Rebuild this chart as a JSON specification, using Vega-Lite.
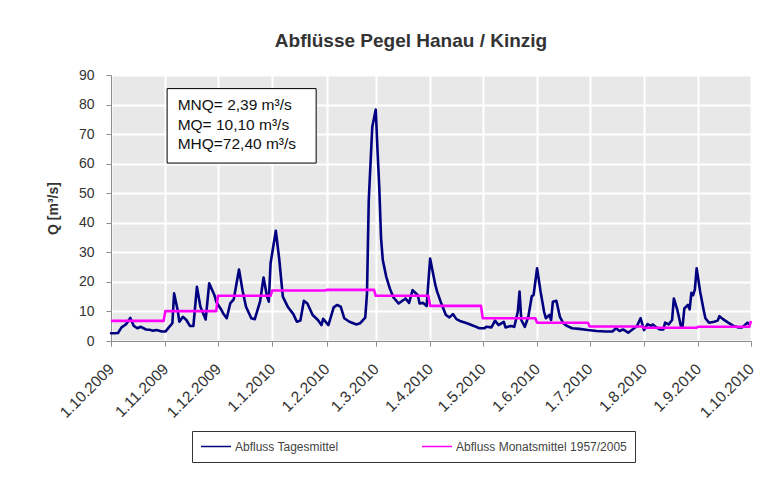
{
  "$schema": "https://vega.github.io/schema/vega-lite/v6.json",
  "width": 640,
  "height": 266,
  "autosize": {"type": "none"},
  "padding": {"left": 111, "top": 75, "right": 28, "bottom": 139},
  "background": "white",
  "title": {
    "text": "Abflüsse Pegel Hanau / Kinzig",
    "font": "Liberation Sans",
    "fontSize": 19,
    "fontWeight": "bold",
    "color": "#333333",
    "anchor": "middle",
    "dx": -20,
    "offset": 17
  },
  "config": {
    "view": {"fill": "#E8E8E8", "stroke": null},
    "axis": {
      "labelFont": "Liberation Sans",
      "titleFont": "Liberation Sans",
      "labelColor": "#333333",
      "titleColor": "#333333",
      "domainColor": "#8C8C8C",
      "tickColor": "#8C8C8C",
      "gridColor": "#FFFFFF",
      "gridWidth": 2,
      "gridOpacity": 1
    },
    "legend": {"labelFont": "Liberation Sans"}
  },
  "datasets": {
    "daily": [
      {"d": "2009-10-01", "q": 2.6}, {"d": "2009-10-03", "q": 2.6}, {"d": "2009-10-05", "q": 2.7},
      {"d": "2009-10-07", "q": 4.6}, {"d": "2009-10-09", "q": 5.4}, {"d": "2009-10-10", "q": 6.0},
      {"d": "2009-10-12", "q": 7.8}, {"d": "2009-10-14", "q": 5.1}, {"d": "2009-10-16", "q": 4.3},
      {"d": "2009-10-18", "q": 4.8}, {"d": "2009-10-21", "q": 3.9}, {"d": "2009-10-23", "q": 3.8},
      {"d": "2009-10-25", "q": 3.5}, {"d": "2009-10-27", "q": 3.7}, {"d": "2009-10-30", "q": 3.2},
      {"d": "2009-11-01", "q": 3.2}, {"d": "2009-11-03", "q": 4.6}, {"d": "2009-11-05", "q": 6.0},
      {"d": "2009-11-06", "q": 16.1}, {"d": "2009-11-08", "q": 10.5}, {"d": "2009-11-09", "q": 6.5},
      {"d": "2009-11-11", "q": 8.2}, {"d": "2009-11-13", "q": 7.1}, {"d": "2009-11-15", "q": 5.1},
      {"d": "2009-11-17", "q": 5.1}, {"d": "2009-11-19", "q": 18.3}, {"d": "2009-11-21", "q": 11.6},
      {"d": "2009-11-24", "q": 7.3}, {"d": "2009-11-26", "q": 19.5}, {"d": "2009-11-29", "q": 15.5},
      {"d": "2009-11-30", "q": 13.3}, {"d": "2009-12-03", "q": 10.5}, {"d": "2009-12-04", "q": 9.3},
      {"d": "2009-12-06", "q": 7.7}, {"d": "2009-12-08", "q": 12.7}, {"d": "2009-12-10", "q": 14.1},
      {"d": "2009-12-13", "q": 24.2}, {"d": "2009-12-15", "q": 17.2}, {"d": "2009-12-17", "q": 11.6},
      {"d": "2009-12-20", "q": 7.7}, {"d": "2009-12-22", "q": 7.4}, {"d": "2009-12-25", "q": 13.3},
      {"d": "2009-12-27", "q": 21.5}, {"d": "2009-12-29", "q": 15.0}, {"d": "2009-12-30", "q": 13.3},
      {"d": "2009-12-31", "q": 26.3}, {"d": "2010-01-03", "q": 37.3}, {"d": "2010-01-05", "q": 27.4},
      {"d": "2010-01-07", "q": 15.0}, {"d": "2010-01-10", "q": 11.4}, {"d": "2010-01-13", "q": 9.1},
      {"d": "2010-01-15", "q": 6.5}, {"d": "2010-01-17", "q": 6.9}, {"d": "2010-01-19", "q": 13.6},
      {"d": "2010-01-21", "q": 12.7}, {"d": "2010-01-24", "q": 8.8}, {"d": "2010-01-27", "q": 7.1},
      {"d": "2010-01-29", "q": 5.4}, {"d": "2010-01-30", "q": 7.5}, {"d": "2010-02-02", "q": 5.4},
      {"d": "2010-02-05", "q": 11.4}, {"d": "2010-02-07", "q": 12.2}, {"d": "2010-02-09", "q": 11.6},
      {"d": "2010-02-11", "q": 7.7}, {"d": "2010-02-14", "q": 6.5}, {"d": "2010-02-18", "q": 5.6},
      {"d": "2010-02-20", "q": 6.0}, {"d": "2010-02-23", "q": 7.9}, {"d": "2010-02-24", "q": 16.1},
      {"d": "2010-02-25", "q": 47.6}, {"d": "2010-02-27", "q": 72.4}, {"d": "2010-03-01", "q": 78.3},
      {"d": "2010-03-02", "q": 64.5}, {"d": "2010-03-03", "q": 52.0}, {"d": "2010-03-04", "q": 35.0},
      {"d": "2010-03-05", "q": 27.4}, {"d": "2010-03-07", "q": 21.7}, {"d": "2010-03-09", "q": 17.8},
      {"d": "2010-03-11", "q": 14.8}, {"d": "2010-03-14", "q": 12.7}, {"d": "2010-03-18", "q": 14.4},
      {"d": "2010-03-20", "q": 12.9}, {"d": "2010-03-22", "q": 17.2}, {"d": "2010-03-25", "q": 15.5},
      {"d": "2010-03-26", "q": 12.7}, {"d": "2010-03-28", "q": 12.9}, {"d": "2010-03-30", "q": 11.8},
      {"d": "2010-04-01", "q": 27.9}, {"d": "2010-04-04", "q": 18.9}, {"d": "2010-04-05", "q": 16.7},
      {"d": "2010-04-07", "q": 13.3}, {"d": "2010-04-10", "q": 8.8}, {"d": "2010-04-12", "q": 8.0},
      {"d": "2010-04-14", "q": 9.1}, {"d": "2010-04-16", "q": 7.4}, {"d": "2010-04-18", "q": 6.8},
      {"d": "2010-04-22", "q": 6.0}, {"d": "2010-04-26", "q": 5.1}, {"d": "2010-04-29", "q": 4.3},
      {"d": "2010-05-02", "q": 4.3}, {"d": "2010-05-03", "q": 4.8}, {"d": "2010-05-06", "q": 4.6},
      {"d": "2010-05-08", "q": 6.9}, {"d": "2010-05-10", "q": 5.4}, {"d": "2010-05-13", "q": 6.5},
      {"d": "2010-05-14", "q": 4.6}, {"d": "2010-05-17", "q": 5.1}, {"d": "2010-05-19", "q": 4.8},
      {"d": "2010-05-21", "q": 9.9}, {"d": "2010-05-22", "q": 16.7}, {"d": "2010-05-23", "q": 7.1},
      {"d": "2010-05-25", "q": 4.8}, {"d": "2010-05-27", "q": 8.2}, {"d": "2010-05-29", "q": 15.2},
      {"d": "2010-05-30", "q": 15.5}, {"d": "2010-06-01", "q": 24.6}, {"d": "2010-06-03", "q": 16.7},
      {"d": "2010-06-05", "q": 9.9}, {"d": "2010-06-06", "q": 7.7}, {"d": "2010-06-08", "q": 8.8},
      {"d": "2010-06-09", "q": 7.1}, {"d": "2010-06-10", "q": 13.3}, {"d": "2010-06-12", "q": 13.6},
      {"d": "2010-06-14", "q": 8.2}, {"d": "2010-06-16", "q": 6.0}, {"d": "2010-06-18", "q": 5.1},
      {"d": "2010-06-21", "q": 4.3}, {"d": "2010-06-25", "q": 4.1}, {"d": "2010-06-30", "q": 3.7},
      {"d": "2010-07-05", "q": 3.4}, {"d": "2010-07-10", "q": 3.2}, {"d": "2010-07-14", "q": 3.2},
      {"d": "2010-07-16", "q": 4.3}, {"d": "2010-07-18", "q": 3.4}, {"d": "2010-07-20", "q": 3.9},
      {"d": "2010-07-23", "q": 2.8}, {"d": "2010-07-25", "q": 3.7}, {"d": "2010-07-28", "q": 5.1},
      {"d": "2010-07-30", "q": 7.7}, {"d": "2010-08-01", "q": 3.7}, {"d": "2010-08-03", "q": 5.7},
      {"d": "2010-08-05", "q": 5.1}, {"d": "2010-08-06", "q": 5.6}, {"d": "2010-08-08", "q": 4.6},
      {"d": "2010-08-10", "q": 3.9}, {"d": "2010-08-12", "q": 3.9}, {"d": "2010-08-13", "q": 6.2},
      {"d": "2010-08-15", "q": 5.6}, {"d": "2010-08-17", "q": 7.1}, {"d": "2010-08-18", "q": 14.4},
      {"d": "2010-08-20", "q": 10.5}, {"d": "2010-08-22", "q": 5.1}, {"d": "2010-08-23", "q": 5.1},
      {"d": "2010-08-24", "q": 11.0}, {"d": "2010-08-26", "q": 12.2}, {"d": "2010-08-27", "q": 10.7},
      {"d": "2010-08-28", "q": 16.3}, {"d": "2010-08-29", "q": 15.5}, {"d": "2010-08-30", "q": 17.5},
      {"d": "2010-08-31", "q": 24.6}, {"d": "2010-09-02", "q": 16.7}, {"d": "2010-09-04", "q": 10.5},
      {"d": "2010-09-05", "q": 7.7}, {"d": "2010-09-07", "q": 6.2}, {"d": "2010-09-10", "q": 6.5},
      {"d": "2010-09-12", "q": 6.9}, {"d": "2010-09-13", "q": 8.4}, {"d": "2010-09-15", "q": 7.4},
      {"d": "2010-09-18", "q": 6.2}, {"d": "2010-09-21", "q": 5.1}, {"d": "2010-09-24", "q": 4.6},
      {"d": "2010-09-26", "q": 4.6}, {"d": "2010-09-28", "q": 5.7}, {"d": "2010-09-29", "q": 6.2},
      {"d": "2010-09-30", "q": 5.7}
    ],
    "monthly": [
      {"d": "2009-10-01", "q": 6.8}, {"d": "2009-10-31", "q": 6.8},
      {"d": "2009-11-01", "q": 10.1}, {"d": "2009-11-30", "q": 10.1},
      {"d": "2009-12-01", "q": 15.3}, {"d": "2009-12-31", "q": 15.3},
      {"d": "2010-01-01", "q": 17.1}, {"d": "2010-01-31", "q": 17.1},
      {"d": "2010-02-01", "q": 17.3}, {"d": "2010-02-28", "q": 17.3},
      {"d": "2010-03-01", "q": 15.3}, {"d": "2010-03-31", "q": 15.3},
      {"d": "2010-04-01", "q": 11.9}, {"d": "2010-04-30", "q": 11.9},
      {"d": "2010-05-01", "q": 7.7}, {"d": "2010-05-31", "q": 7.7},
      {"d": "2010-06-01", "q": 6.2}, {"d": "2010-06-30", "q": 6.2},
      {"d": "2010-07-01", "q": 4.9}, {"d": "2010-07-31", "q": 4.9},
      {"d": "2010-08-01", "q": 4.5}, {"d": "2010-08-31", "q": 4.5},
      {"d": "2010-09-01", "q": 4.8}, {"d": "2010-09-30", "q": 4.8},
      {"d": "2010-10-01", "q": 6.8}
    ],
    "note": [
      {"t": ["MNQ= 2,39 m³/s", "MQ= 10,10 m³/s", "MHQ=72,40 m³/s"]}
    ]
  },
  "layer": [
    {
      "data": {"name": "daily"},
      "mark": {"type": "line", "strokeWidth": 2.6, "strokeJoin": "round", "strokeCap": "round"},
      "encoding": {
        "x": {
          "field": "d",
          "type": "temporal",
          "scale": {
            "type": "utc",
            "domain": [
              {"year": 2009, "month": 10, "date": 1, "utc": true},
              {"year": 2010, "month": 10, "date": 1, "utc": true}
            ],
            "nice": false
          },
          "axis": {
            "title": null,
            "tickCount": {"interval": "month", "step": 1},
            "labelExpr": "utcFormat(datum.value, '%-d.%-m.%Y')",
            "labelAngle": -45,
            "labelAlign": "right",
            "labelBaseline": "middle",
            "labelFontSize": 15.5,
            "labelPadding": 20,
            "tickSize": 5,
            "labelOverlap": false,
            "labelBound": false,
            "labelFlush": false
          }
        },
        "y": {
          "field": "q",
          "type": "quantitative",
          "scale": {"domain": [0, 90], "nice": false},
          "axis": {
            "title": "Q [m³/s]",
            "titleFontSize": 14,
            "titleFontWeight": "bold",
            "titlePadding": 18,
            "values": [0, 10, 20, 30, 40, 50, 60, 70, 80, 90],
            "labelFontSize": 14,
            "labelPadding": 12,
            "tickSize": 5
          }
        },
        "color": {
          "datum": "Abfluss Tagesmittel",
          "type": "nominal",
          "scale": {
            "domain": ["Abfluss Tagesmittel", "Abfluss Monatsmittel 1957/2005"],
            "range": ["#000080", "#FF00FF"]
          },
          "legend": {
            "title": null,
            "orient": "none",
            "direction": "horizontal",
            "legendX": 81,
            "legendY": 356,
            "padding": 8,
            "clipHeight": 15,
            "strokeColor": "#333333",
            "fillColor": "white",
            "symbolType": "stroke",
            "symbolSize": 900,
            "symbolStrokeWidth": 1.6,
            "labelFontSize": 12,
            "labelLimit": 400,
            "labelColor": "#444444",
            "labelOffset": 3,
            "columnPadding": 82
          }
        }
      }
    },
    {
      "data": {"name": "monthly"},
      "mark": {"type": "line", "strokeWidth": 2.6, "strokeJoin": "round"},
      "encoding": {
        "x": {
          "field": "d",
          "type": "temporal",
          "axis": {
            "title": null,
            "tickCount": {"interval": "month", "step": 1},
            "labelExpr": "utcFormat(datum.value, '%-d.%-m.%Y')",
            "labelAngle": -45,
            "labelAlign": "right",
            "labelBaseline": "middle",
            "labelFontSize": 15.5,
            "labelPadding": 20,
            "tickSize": 5,
            "labelOverlap": false,
            "labelBound": false,
            "labelFlush": false
          }
        },
        "y": {
          "field": "q",
          "type": "quantitative",
          "axis": {
            "title": "Q [m³/s]",
            "titleFontSize": 14,
            "titleFontWeight": "bold",
            "titlePadding": 18,
            "values": [0, 10, 20, 30, 40, 50, 60, 70, 80, 90],
            "labelFontSize": 14,
            "labelPadding": 12,
            "tickSize": 5
          }
        },
        "color": {"datum": "Abfluss Monatsmittel 1957/2005", "type": "nominal"}
      }
    },
    {
      "data": {"name": "note"},
      "mark": {"type": "rect", "fill": "white", "stroke": "black", "strokeWidth": 1},
      "encoding": {
        "x": {
          "datum": {"year": 2009, "month": 11, "date": 2, "utc": true},
          "type": "temporal",
          "axis": {
            "title": null,
            "tickCount": {"interval": "month", "step": 1},
            "labelExpr": "utcFormat(datum.value, '%-d.%-m.%Y')",
            "labelAngle": -45,
            "labelAlign": "right",
            "labelBaseline": "middle",
            "labelFontSize": 15.5,
            "labelPadding": 20,
            "tickSize": 5,
            "labelOverlap": false,
            "labelBound": false,
            "labelFlush": false
          }
        },
        "x2": {"datum": {"year": 2010, "month": 1, "date": 26, "utc": true}},
        "y": {
          "datum": 85.4,
          "type": "quantitative",
          "axis": {
            "title": "Q [m³/s]",
            "titleFontSize": 14,
            "titleFontWeight": "bold",
            "titlePadding": 18,
            "values": [0, 10, 20, 30, 40, 50, 60, 70, 80, 90],
            "labelFontSize": 14,
            "labelPadding": 12,
            "tickSize": 5
          }
        },
        "y2": {"datum": 60.2}
      }
    },
    {
      "data": {"name": "note"},
      "mark": {
        "type": "text",
        "align": "left",
        "baseline": "middle",
        "font": "Liberation Sans",
        "fontSize": 15.5,
        "lineHeight": 19.5,
        "color": "#111111"
      },
      "encoding": {
        "x": {
          "datum": {"year": 2009, "month": 11, "date": 8, "utc": true},
          "type": "temporal",
          "axis": {
            "title": null,
            "tickCount": {"interval": "month", "step": 1},
            "labelExpr": "utcFormat(datum.value, '%-d.%-m.%Y')",
            "labelAngle": -45,
            "labelAlign": "right",
            "labelBaseline": "middle",
            "labelFontSize": 15.5,
            "labelPadding": 20,
            "tickSize": 5,
            "labelOverlap": false,
            "labelBound": false,
            "labelFlush": false
          }
        },
        "y": {
          "datum": 79.7,
          "type": "quantitative",
          "axis": {
            "title": "Q [m³/s]",
            "titleFontSize": 14,
            "titleFontWeight": "bold",
            "titlePadding": 18,
            "values": [0, 10, 20, 30, 40, 50, 60, 70, 80, 90],
            "labelFontSize": 14,
            "labelPadding": 12,
            "tickSize": 5
          }
        },
        "text": {"field": "t"}
      }
    }
  ]
}
